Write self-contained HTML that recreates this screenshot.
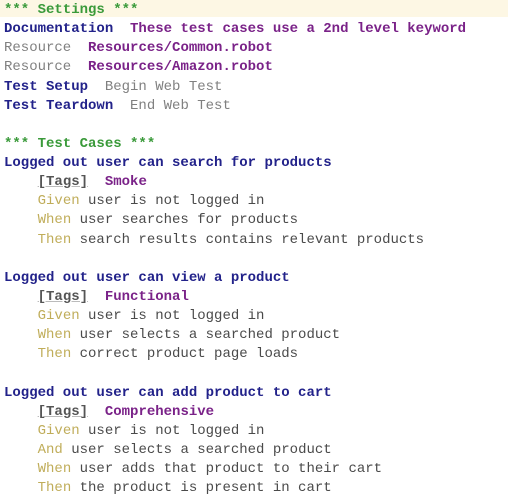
<!DOCTYPE html>
<html><head><style>
html,body{margin:0;padding:0;background:#fff;width:508px;height:503px;overflow:hidden}
.hl{position:absolute;left:0;top:0;width:508px;height:17px;background:#fdf7e4}
pre{position:absolute;left:4px;top:1px;margin:0;font-family:"Liberation Mono",monospace;font-size:14px;line-height:19.12px;color:#4a4a4a}
.g{color:#3a9a3a;font-weight:bold}
.b{color:#22228a;font-weight:bold}
.s{color:#808080}
.p{color:#7a2288;font-weight:bold}
.k{color:#c0ad5a}
.t{color:#555;font-weight:bold;text-decoration:underline;text-decoration-color:#bbb}
</style></head><body>
<div class="hl"></div>
<pre><span class="g">*** Settings ***</span>
<span class="b">Documentation</span>  <span class="p">These test cases use a 2nd level keyword</span>
<span class="s">Resource</span>  <span class="p">Resources/Common.robot</span>
<span class="s">Resource</span>  <span class="p">Resources/Amazon.robot</span>
<span class="b">Test Setup</span>  <span class="s">Begin Web Test</span>
<span class="b">Test Teardown</span>  <span class="s">End Web Test</span>

<span class="g">*** Test Cases ***</span>
<span class="b">Logged out user can search for products</span>
    <span class="t">[Tags]</span>  <span class="p">Smoke</span>
    <span class="k">Given</span> user is not logged in
    <span class="k">When</span> user searches for products
    <span class="k">Then</span> search results contains relevant products

<span class="b">Logged out user can view a product</span>
    <span class="t">[Tags]</span>  <span class="p">Functional</span>
    <span class="k">Given</span> user is not logged in
    <span class="k">When</span> user selects a searched product
    <span class="k">Then</span> correct product page loads

<span class="b">Logged out user can add product to cart</span>
    <span class="t">[Tags]</span>  <span class="p">Comprehensive</span>
    <span class="k">Given</span> user is not logged in
    <span class="k">And</span> user selects a searched product
    <span class="k">When</span> user adds that product to their cart
    <span class="k">Then</span> the product is present in cart</pre>
</body></html>
